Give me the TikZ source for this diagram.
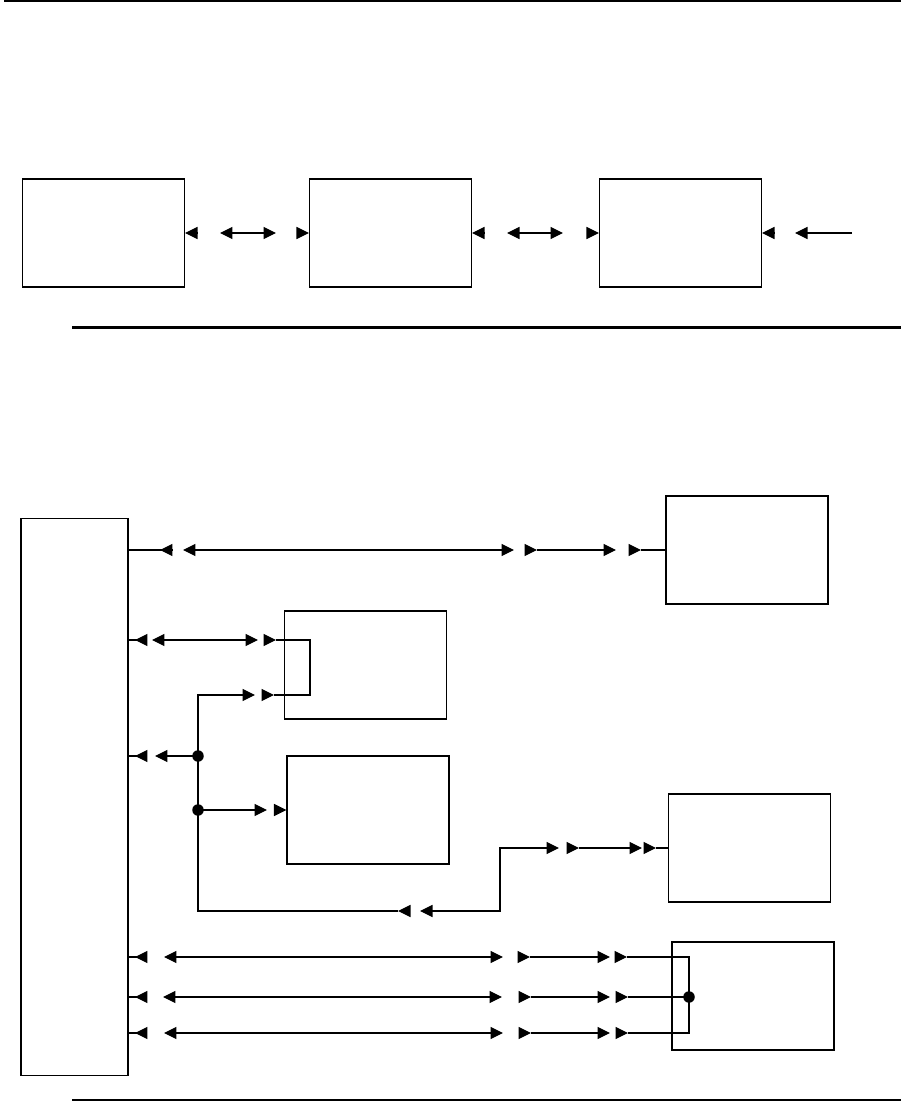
\documentclass[tikz,border=0pt]{standalone}
\usetikzlibrary{arrows.meta,positioning}

\begin{document}
\begin{tikzpicture}[x=0.02cm,y=-0.02cm,line width=0.6pt,
  box/.style={draw,minimum width=3.24cm,minimum height=2.16cm,inner sep=0pt},
  arr/.style={-{Triangle[length=2.5mm,width=2.4mm]}},
  dbl/.style={{Triangle[length=2.5mm,width=2.4mm]}-{Triangle[length=2.5mm,width=2.4mm]}},
  rule/.style={line width=1.15pt}]
\useasboundingbox (0,0) rectangle (901,1116);
\draw[rule] (4,1)--(901,1); \draw[rule] (72,327.5)--(901,327.5); \draw[rule] (72,1100)--(901,1100);
% upper chain
\node[box] (a) at (103.5,233) {};
\node[box,right=2.48cm of a] (b) {};
\node[box,right=2.54cm of b] (c) {};
\draw[arr] (197,233)--(a.east); \draw[dbl] (220,233)--(276,233); \draw[arr] (298,233)--(b.west);
\draw[arr] (484,233)--(b.east); \draw[dbl] (507,233)--(563,233); \draw[arr] (587,233)--(c.west);
\draw[arr] (774,233)--(c.east); \draw[arr] (852,233)--(795,233);
% lower part
\node[box,minimum width=2.14cm,minimum height=11.16cm] (hub) at (74.5,797) {};
\node[box] (r1) at (747,550) {};
\node[box] (m1) at (365.5,665) {};
\node[box] (m2) at (368,810) {};
\node[box] (r2) at (749.5,848) {};
\node[box] (r3) at (753,996) {};
\coordinate (j1) at (198,756); \coordinate (j2) at (198,810); \coordinate (j3) at (689,997);
% row to r1
\draw (hub.east |- r1)--(172,550); \draw[arr] (172,550)--(160,550);
\draw[dbl] (183,550)--(514,550);
\draw[arr] (525,550)--(537,550); \draw[arr] (537,550)--(616,550);
\draw[arr] (629,550)--(641,550); \draw (641,550)--(r1.west);
% loop through m1
\draw (128,640)--(146,640); \draw[arr] (146,640)--(135,640);
\draw[dbl] (152,640)--(258,640); \draw[arr] (264,640)--(276,640);
\draw (276,640) -| (310,695)--(274,695); \draw[arr] (262,695)--(274,695);
\draw[arr] (398,911) -| (198,695)--(255,695); \draw[arr] (407,911)--(398,911);
\draw[dbl] (420,911) -| (500,848)--(559,848);
\draw[arr] (569,848)--(579,848); \draw[arr] (579,848)--(642,848);
\draw[arr] (646,848)--(656,848); \draw (656,848)--(r2.west);
% branches of the trunk
\draw (128,756)--(146,756); \draw[arr] (146,756)--(135,756); \draw[arr] (j1)--(155,756);
\draw[arr] (j2)--(267,810); \draw[arr] (276,810)--(m2.west);
\fill (j1) circle (0.115cm); \fill (j2) circle (0.115cm);
% three lines to r3
\draw (128,957)--(146,957); \draw[arr] (146,957)--(135,957);
\draw[dbl] (164,957)--(503,957);
\draw[arr] (519,957)--(530,957); \draw[arr] (530,957)--(610,957); \draw[arr] (616,957)--(627,957);
\draw (128,997)--(146,997); \draw[arr] (146,997)--(135,997);
\draw[dbl] (163,997)--(502,997);
\draw[arr] (520,997)--(531,997); \draw[arr] (531,997)--(610,997); \draw[arr] (617,997)--(628,997);
\draw (127,1033)--(146,1033); \draw[arr] (146,1033)--(135,1033);
\draw[dbl] (164,1033)--(503,1033);
\draw[arr] (520,1033)--(531,1033); \draw[arr] (531,1033)--(610,1033); \draw[arr] (617,1033)--(628,1033);
\draw (627,957) -| (689,1033)--(628,1033); \draw (628,997)--(j3);
\fill (j3) circle (0.115cm);
\end{tikzpicture}
\end{document}
